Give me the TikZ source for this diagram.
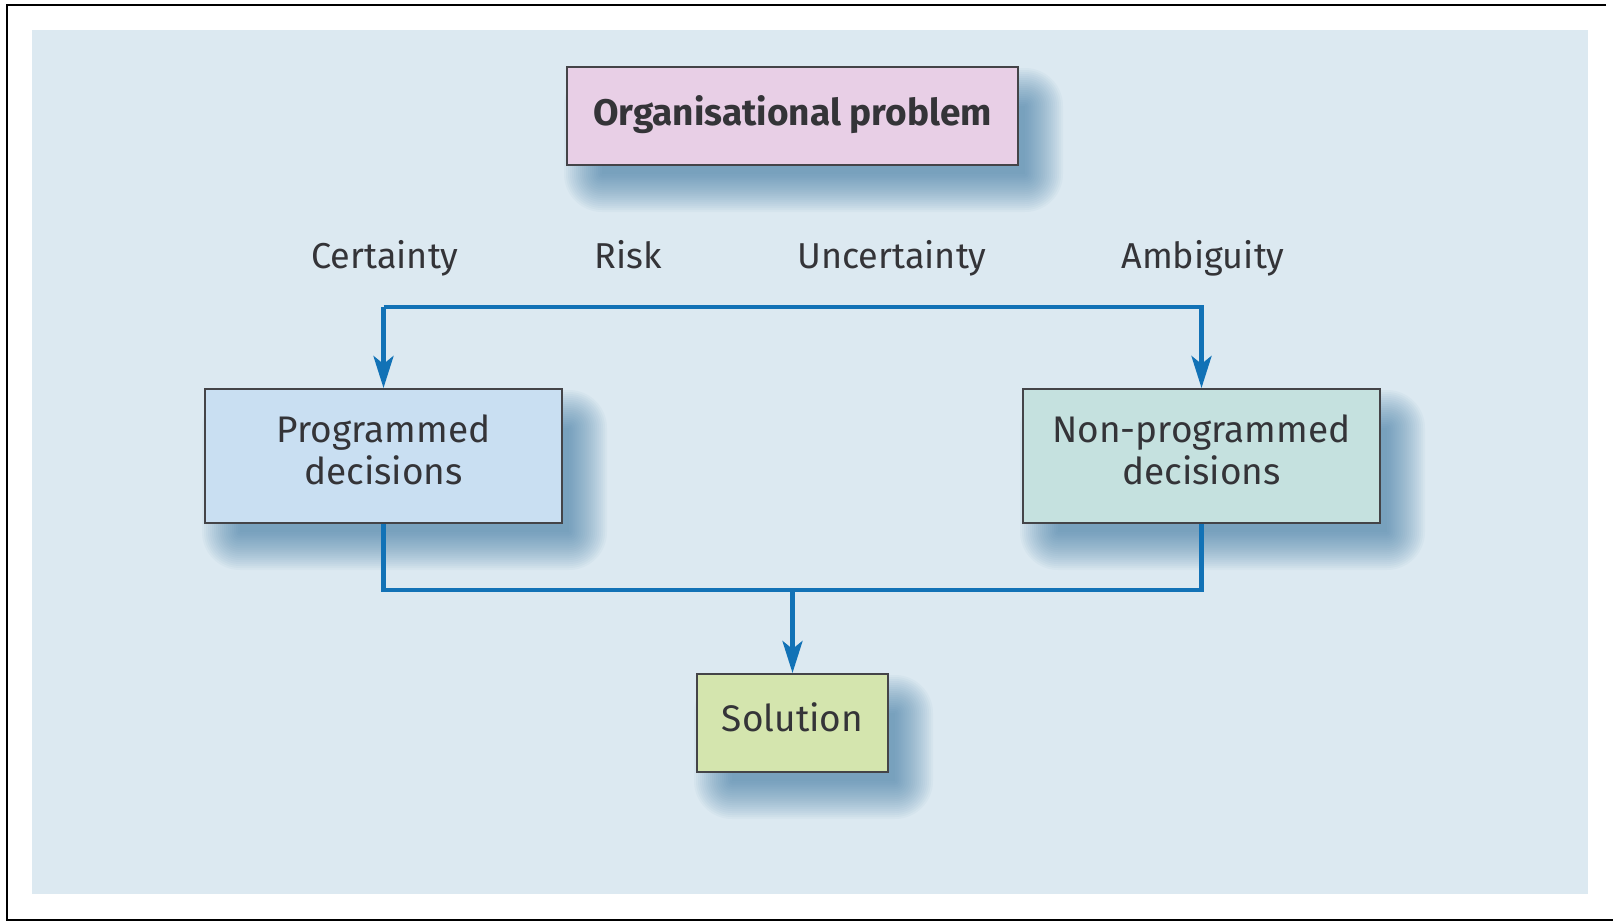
\documentclass[tikz,border=0pt]{standalone}
\usepackage{fontspec}
\setmainfont{Fira Sans}
\usetikzlibrary{arrows.meta}
\pgfdeclarelayer{ground}
\pgfdeclarelayer{shadow}
\pgfsetlayers{ground,shadow,main}

\definecolor{panelblue}{RGB}{220,233,241}
\definecolor{shadowblue}{RGB}{50,115,158}
\definecolor{flowblue}{RGB}{18,114,182}
\definecolor{boxline}{RGB}{68,68,72}
\definecolor{inkgray}{RGB}{52,52,56}
\definecolor{fillpink}{RGB}{232,207,230}
\definecolor{fillblue}{RGB}{201,223,242}
\definecolor{fillteal}{RGB}{197,225,223}
\definecolor{fillgreen}{RGB}{212,229,174}

\tikzset{
  box/.style={draw=boxline, line width=2pt, inner sep=0pt, align=center,
    text=inkgray, text depth=12pt, font=\fontsize{37}{42}\selectfont},
  caption/.style={text=inkgray, font=\fontsize{36}{42}\selectfont, anchor=base},
  flow/.style={draw=flowblue, line width=4.5pt},
  tip/.style={-{Stealth[length=32pt,width=20pt,inset=8pt]}},
}

% soft blue shadow behind a node, offset right and down
\newcommand{\dropshadow}[1]{%
  \begin{pgfonlayer}{shadow}
    \foreach \r in {38,36,...,0}{
      \fill[shadowblue, opacity=0.038, rounded corners=\r pt]
        ([xshift={36pt-\r pt}, yshift={-40pt+\r pt}]#1.north west)
        rectangle ([xshift={6pt+\r pt}, yshift={-8pt-\r pt}]#1.south east);
    }
  \end{pgfonlayer}}

\begin{document}
\begin{tikzpicture}[x=1pt, y=-1pt]
  \useasboundingbox (0,0) rectangle (1613,921);
  \begin{pgfonlayer}{ground}
    \fill[white] (0,0) rectangle (1613,921);
    \draw[black, line width=2pt] (1606,5) -- (7,5) -- (7,920) -- (1613,920);
    \fill[panelblue] (32,30) rectangle (1588,894);
  \end{pgfonlayer}

  \node[box, fill=fillpink, minimum width=451pt, minimum height=98pt,
        font=\fontsize{37}{42}\selectfont\bfseries] (prob) at (792.5,116) {Organisational problem};

  \node[caption] (cert) at (385,268) {Certainty};
  \node[caption] (risk) at (628,268) {Risk};
  \node[caption] (unc) at (892,268) {Uncertainty};
  \node[caption] (amb) at (1203,268) {Ambiguity};

  \node[box, fill=fillblue, minimum width=357pt, minimum height=134pt] (prog) at (383.5,456) {Programmed\\decisions};
  \node[box, fill=fillteal, minimum width=357pt, minimum height=134pt] (nonprog) at (1201.5,456) {Non-programmed\\decisions};
  \node[box, fill=fillgreen, minimum width=191pt, minimum height=98pt] (sol) at (792.5,723) {Solution};

  \dropshadow{prob}
  \dropshadow{prog}
  \dropshadow{nonprog}
  \dropshadow{sol}

  \coordinate (split) at (0,307);
  \coordinate (merge) at (0,590);

  \draw[flow, tip] (prog.north |- split) -- (prog.north);
  \draw[flow, tip] (prog.north |- split) -| (nonprog.north);
  \draw[flow] (prog.south) |- (sol.north |- merge) -| (nonprog.south);
  \draw[flow, tip] (sol.north |- merge) -- (sol.north);
\end{tikzpicture}
\end{document}
